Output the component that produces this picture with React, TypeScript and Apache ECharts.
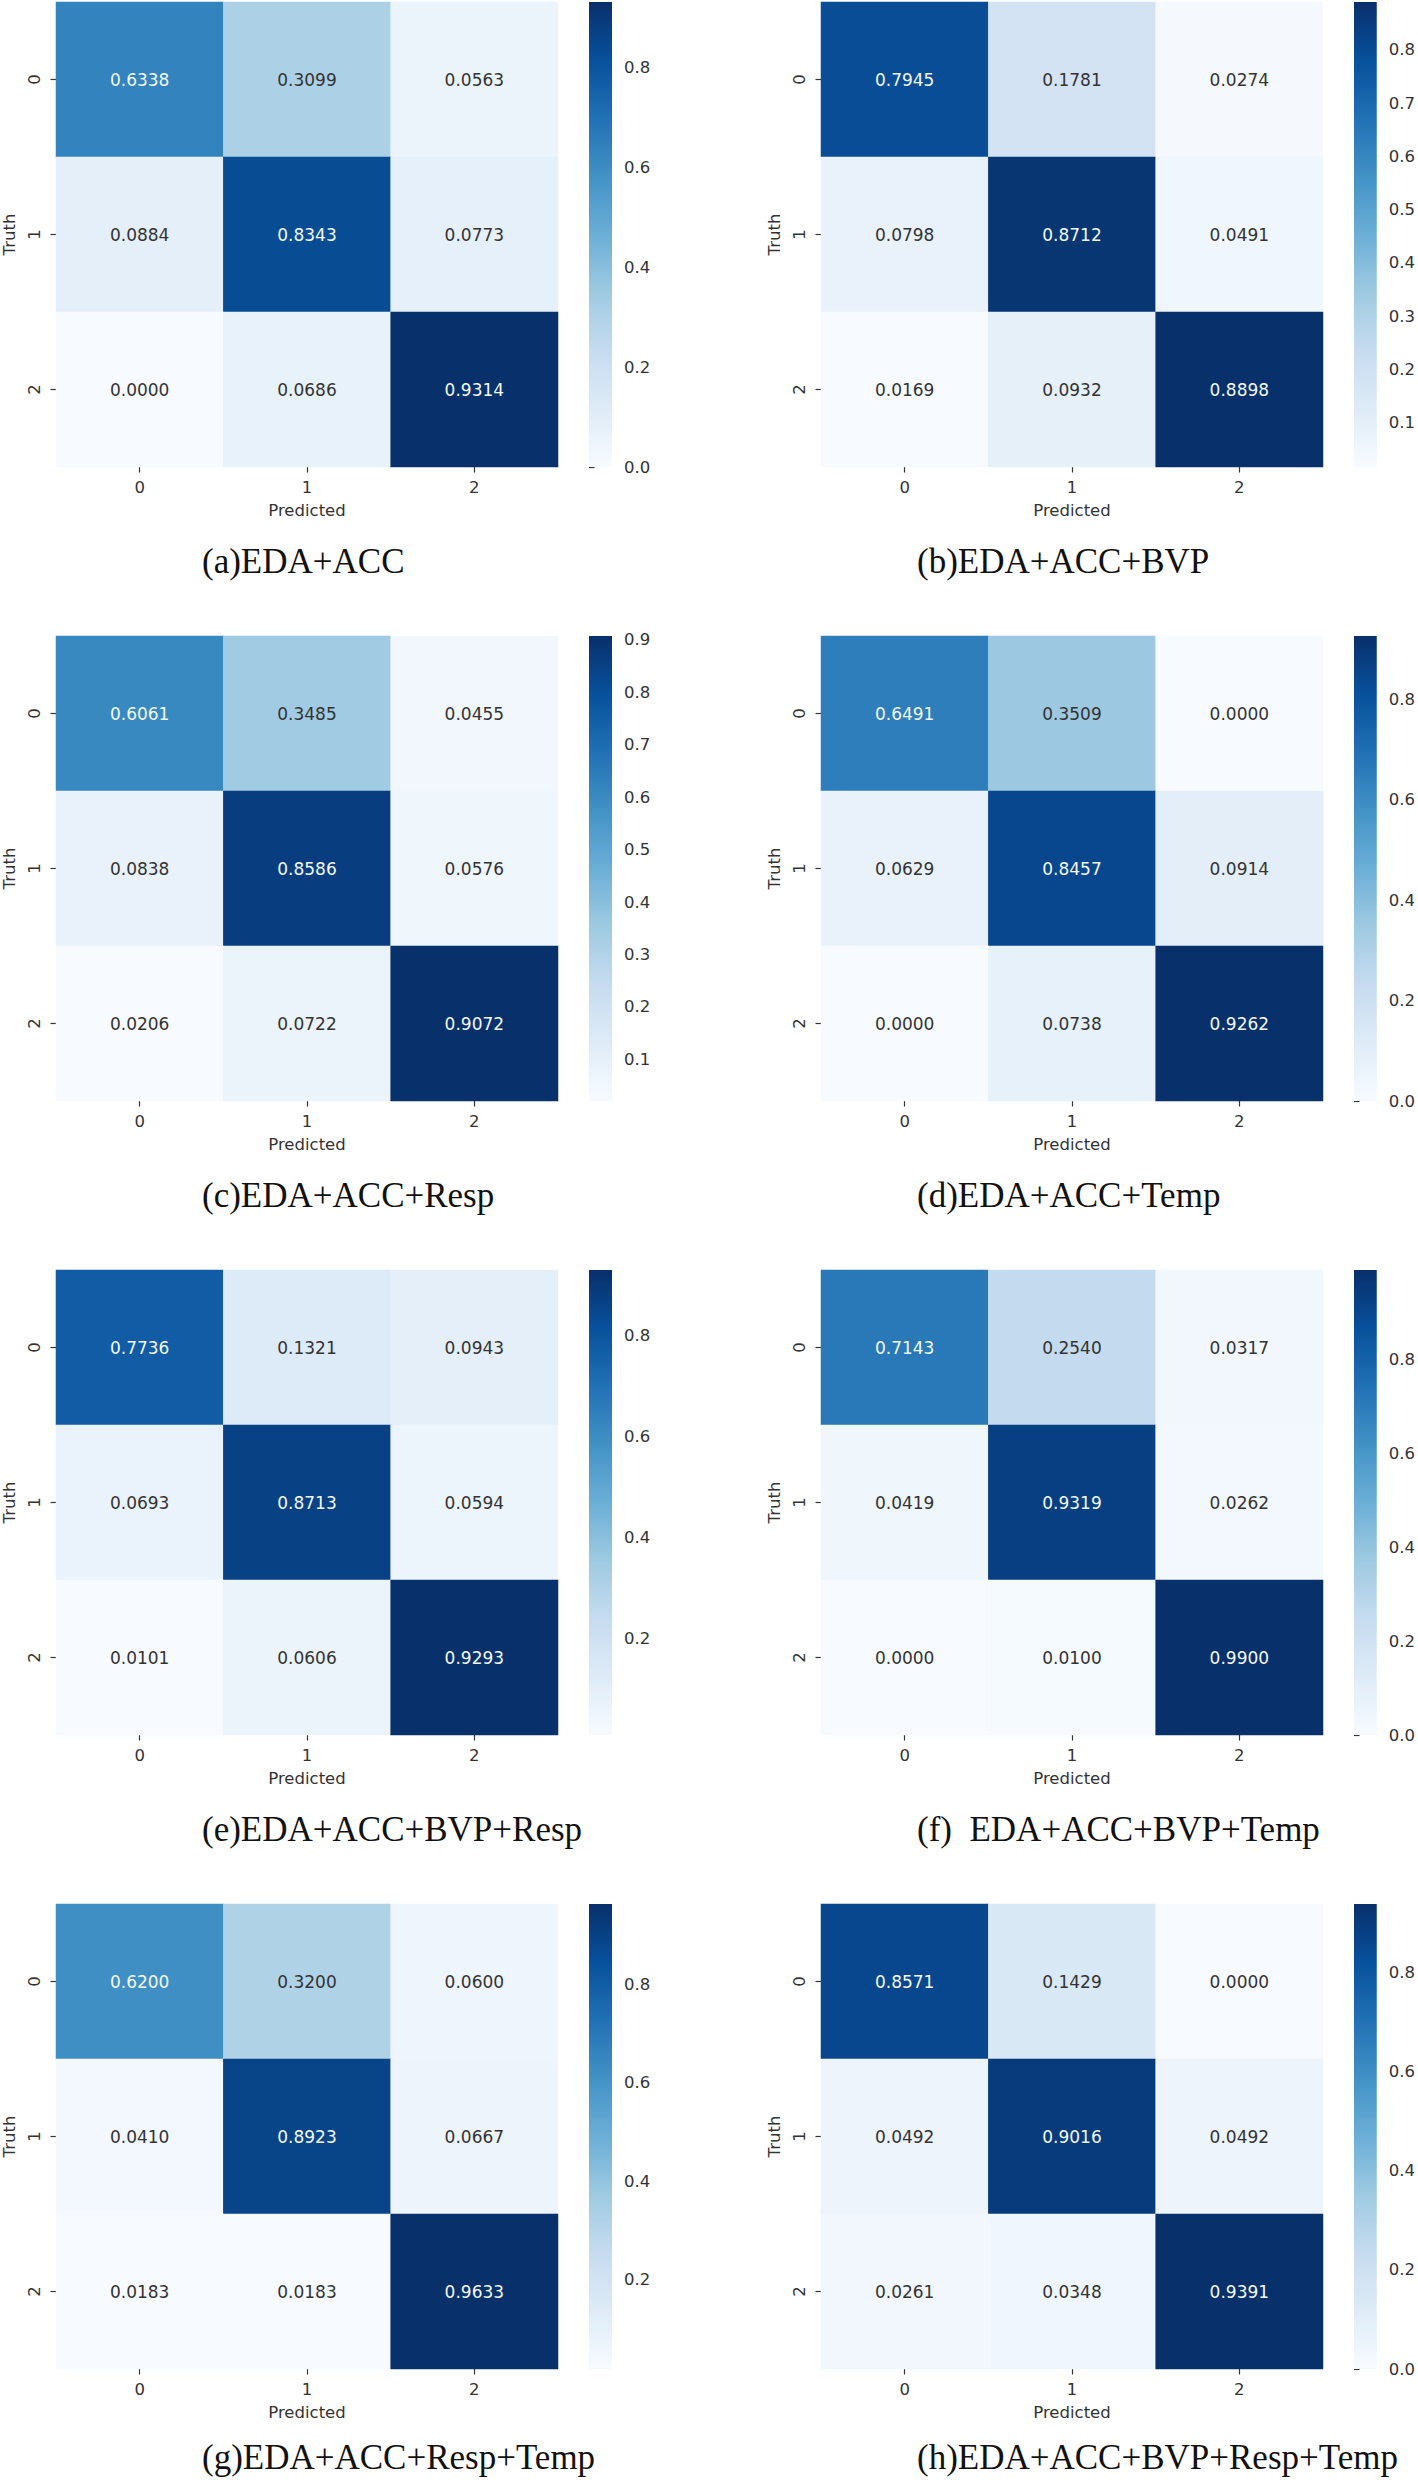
import React, { useEffect, useRef } from "react";
import * as echarts from "echarts";

// ---- data ----
const classLabels = ["0", "1", "2"];

const captions = [
  "(a)EDA+ACC",
  "(b)EDA+ACC+BVP",
  "(c)EDA+ACC+Resp",
  "(d)EDA+ACC+Temp",
  "(e)EDA+ACC+BVP+Resp",
  "(f)  EDA+ACC+BVP+Temp",
  "(g)EDA+ACC+Resp+Temp",
  "(h)EDA+ACC+BVP+Resp+Temp",
];

const cmA = [[0.6338, 0.3099, 0.0563], [0.0884, 0.8343, 0.0773], [0.0, 0.0686, 0.9314]];
const cmB = [[0.7945, 0.1781, 0.0274], [0.0798, 0.8712, 0.0491], [0.0169, 0.0932, 0.8898]];
const cmC = [[0.6061, 0.3485, 0.0455], [0.0838, 0.8586, 0.0576], [0.0206, 0.0722, 0.9072]];
const cmD = [[0.6491, 0.3509, 0.0], [0.0629, 0.8457, 0.0914], [0.0, 0.0738, 0.9262]];
const cmE = [[0.7736, 0.1321, 0.0943], [0.0693, 0.8713, 0.0594], [0.0101, 0.0606, 0.9293]];
const cmF = [[0.7143, 0.254, 0.0317], [0.0419, 0.9319, 0.0262], [0.0, 0.01, 0.99]];
const cmG = [[0.62, 0.32, 0.06], [0.041, 0.8923, 0.0667], [0.0183, 0.0183, 0.9633]];
const cmH = [[0.8571, 0.1429, 0.0], [0.0492, 0.9016, 0.0492], [0.0261, 0.0348, 0.9391]];
const matrices = [cmA, cmB, cmC, cmD, cmE, cmF, cmG, cmH];

const ticksA = [0, 0.2, 0.4, 0.6, 0.8];
const ticksB = [0.1, 0.2, 0.3, 0.4, 0.5, 0.6, 0.7, 0.8];
const ticksC = [0.1, 0.2, 0.3, 0.4, 0.5, 0.6, 0.7, 0.8, 0.9];
const ticksD = [0, 0.2, 0.4, 0.6, 0.8];
const ticksE = [0.2, 0.4, 0.6, 0.8];
const ticksF = [0, 0.2, 0.4, 0.6, 0.8];
const ticksG = [0.2, 0.4, 0.6, 0.8];
const ticksH = [0, 0.2, 0.4, 0.6, 0.8];
const colorbarTicks = [ticksA, ticksB, ticksC, ticksD, ticksE, ticksF, ticksG, ticksH];

// matplotlib "Blues"
const BLUES = ["#f7fbff", "#deebf7", "#c6dbef", "#9ecae1", "#6baed6", "#4292c6", "#2171b5", "#08519c", "#08306b"];

// ---- layout ----
const COL_LEFT = [56, 821];
const ROW_TOP = [2, 636, 1270, 1904];
const CAPTION_X = [202, 917];
const HM_W = 502;
const HM_H = 465;
const FONT = "DejaVu Sans";
const TICK_COLOR = "#333333";

function hexToRgb(h: string) {
  const n = parseInt(h.slice(1), 16);
  return [(n >> 16) & 255, (n >> 8) & 255, n & 255];
}
function blues(t: number) {
  const x = Math.max(0, Math.min(1, t)) * (BLUES.length - 1);
  const i = Math.min(BLUES.length - 2, Math.floor(x));
  const f = x - i;
  const a = hexToRgb(BLUES[i]);
  const b = hexToRgb(BLUES[i + 1]);
  return a.map((v, k) => v + (b[k] - v) * f);
}
function lum(rgb: number[]) {
  const c = rgb.map((v) => {
    const s = v / 255;
    return s <= 0.03928 ? s / 12.92 : Math.pow((s + 0.055) / 1.055, 2.4);
  });
  return 0.2126 * c[0] + 0.7152 * c[1] + 0.0722 * c[2];
}

function buildOption() {
  const grid: any[] = [];
  const xAxis: any[] = [];
  const yAxis: any[] = [];
  const series: any[] = [];
  const visualMap: any[] = [];
  const graphic: any[] = [];
  const cbSeries: any[] = [];

  matrices.forEach((m, i) => {
    const col = i % 2;
    const row = Math.floor(i / 2);
    const L = COL_LEFT[col];
    const T = ROW_TOP[row];
    const flat = m.flat();
    const vmin = Math.min(...flat);
    const vmax = Math.max(...flat);

    grid.push({ left: L, top: T, width: HM_W, height: HM_H, containLabel: false });
    grid.push({ left: L + 533, top: T, width: 23, height: HM_H, containLabel: false });

    const labelStyle = { fontFamily: FONT, fontSize: 16.5, color: TICK_COLOR };

    xAxis.push({
      gridIndex: 2 * i,
      type: "category",
      data: classLabels,
      axisLine: { show: false },
      axisTick: { show: true, alignWithLabel: true, length: 5.5, lineStyle: { color: TICK_COLOR, width: 1.2 } },
      axisLabel: { ...labelStyle, margin: 12 },
      splitLine: { show: false },
      name: "Predicted",
      nameLocation: "middle",
      nameGap: 35,
      nameTextStyle: { ...labelStyle },
    });
    xAxis.push({ gridIndex: 2 * i + 1, type: "value", min: 0, max: 1, show: false });

    yAxis.push({
      gridIndex: 2 * i,
      type: "category",
      data: classLabels,
      inverse: true,
      axisLine: { show: false },
      axisTick: { show: true, alignWithLabel: true, length: 5.5, lineStyle: { color: TICK_COLOR, width: 1.2 } },
      axisLabel: { ...labelStyle, rotate: 90, margin: 13 },
      splitLine: { show: false },
      name: "Truth",
      nameLocation: "middle",
      nameGap: 38,
      nameRotate: 90,
      nameTextStyle: { ...labelStyle },
    });
    const ticks = colorbarTicks[i];
    yAxis.push({
      gridIndex: 2 * i + 1,
      type: "value",
      position: "right",
      min: vmin,
      max: vmax,
      axisLine: { show: false },
      axisTick: { show: true, length: 5.5, customValues: ticks, lineStyle: { color: TICK_COLOR, width: 1.2 } },
      axisLabel: {
        ...labelStyle,
        margin: 12,
        customValues: ticks,
        formatter: (v: number) => v.toFixed(1),
      },
      splitLine: { show: false },
    });

    const data: any[] = [];
    m.forEach((r, ri) => {
      r.forEach((v, ci) => {
        const t = vmax > vmin ? (v - vmin) / (vmax - vmin) : 0;
        const color = lum(blues(t)) > 0.408 ? "#333333" : "#f4f8fc";
        data.push({ value: [ci, ri, v], label: { color } });
      });
    });

    series.push({
      type: "heatmap",
      xAxisIndex: 2 * i,
      yAxisIndex: 2 * i,
      data,
      label: {
        show: true,
        fontFamily: FONT,
        fontSize: 17,
        formatter: (p: any) => Number(p.value[2]).toFixed(4),
      },
      emphasis: { disabled: true },
      itemStyle: { borderWidth: 0 },
    });

    visualMap.push({
      type: "continuous",
      show: false,
      seriesIndex: i,
      dimension: 2,
      min: vmin,
      max: vmax,
      inRange: { color: BLUES },
    });

    cbSeries.push({
      type: "custom",
      xAxisIndex: 2 * i + 1,
      yAxisIndex: 2 * i + 1,
      data: [[0, vmin, 1, vmax]],
      silent: true,
      renderItem: (params: any, api: any) => {
        const p0 = api.coord([api.value(0), api.value(1)]);
        const p1 = api.coord([api.value(2), api.value(3)]);
        const stops = BLUES.slice()
          .reverse()
          .map((c, k) => ({ offset: k / (BLUES.length - 1), color: c }));
        return {
          type: "rect",
          shape: { x: p0[0], y: p1[1], width: p1[0] - p0[0], height: p0[1] - p1[1] },
          style: { fill: new echarts.graphic.LinearGradient(0, 0, 0, 1, stops) },
        };
      },
    });

    graphic.push({
      type: "text",
      x: CAPTION_X[col],
      y: Math.min(T + 559, 2457),
      style: {
        text: captions[i],
        font: '35px "Liberation Serif"',
        fill: "#111111",
        verticalAlign: "middle",
        align: "left",
      },
    });
  });

  return {
    animation: false,
    backgroundColor: "#ffffff",
    grid,
    xAxis,
    yAxis,
    visualMap,
    series: [...series, ...cbSeries],
    graphic,
  };
}

export default function App() {
  const ref = useRef<HTMLDivElement>(null);
  useEffect(() => {
    if (!ref.current) return;
    const chart = echarts.init(ref.current, undefined, { renderer: "svg" });
    chart.setOption(buildOption() as any);
    return () => chart.dispose();
  }, []);
  return (
    <div
      ref={ref}
      style={{ position: "absolute", left: 0, top: 0, width: 1418, height: 2480, background: "#fff" }}
    />
  );
}
